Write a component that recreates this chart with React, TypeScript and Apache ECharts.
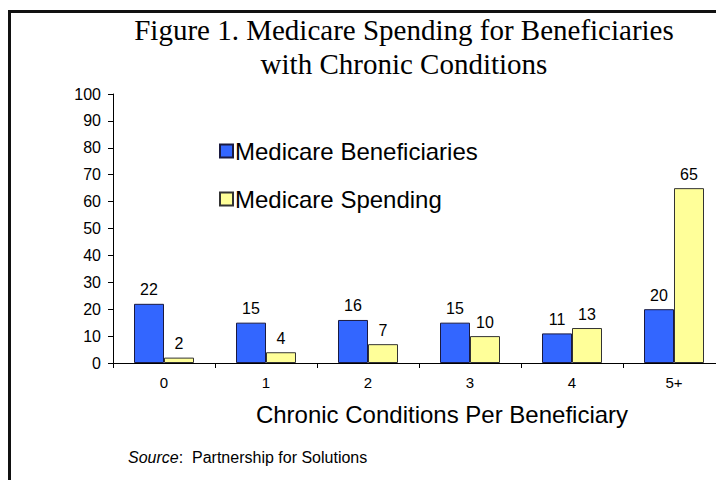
import React, { useEffect, useRef } from "react";
import * as echarts from "echarts";

const categories = ["0", "1", "2", "3", "4", "5+"];
const beneficiaries = [22, 15, 16, 15, 11, 20];
const spending = [2, 4, 7, 10, 13, 65];
const titleLines = ["Figure 1. Medicare Spending for Beneficiaries", "with Chronic Conditions"];
const xAxisName = "Chronic Conditions Per Beneficiary";
const seriesNames = ["Medicare Beneficiaries", "Medicare Spending"];

const SANS = "Liberation Sans, Arial, sans-serif";

export default function App() {
  const ref = useRef<HTMLDivElement>(null);
  useEffect(() => {
    const chart = echarts.init(ref.current!, null, { renderer: "svg" });
    const labelStyle = {
      show: true,
      position: "top" as const,
      distance: 6,
      color: "#000",
      fontFamily: SANS,
      fontSize: 16,
    };
    chart.setOption({
      animation: false,
      backgroundColor: "#fff",
      title: {
        text: titleLines.join("\n"),
        left: 399,
        top: 8,
        textAlign: "center",
        textStyle: {
          fontFamily: "Liberation Serif, Times New Roman, serif",
          fontWeight: "normal",
          fontSize: 29,
          lineHeight: 34,
          color: "#000",
        },
      },
      legend: {
        orient: "vertical",
        left: 214,
        top: 134,
        itemGap: 24,
        itemWidth: 13,
        itemHeight: 13,
        icon: "rect",
        textStyle: {
          fontFamily: SANS,
          fontSize: 24,
          color: "#000",
          padding: [0, 0, 0, -3],
        },
        data: seriesNames,
      },
      grid: { left: 113, top: 94, width: 612, height: 269, containLabel: false, outerBoundsMode: "none" },
      xAxis: {
        type: "category",
        data: categories,
        axisLine: { lineStyle: { color: "#000", width: 1 } },
        axisTick: { show: true, alignWithLabel: false, length: 5, lineStyle: { color: "#000" } },
        axisLabel: { fontFamily: SANS, fontSize: 15, color: "#000", margin: 12 },
      },
      yAxis: {
        type: "value",
        min: 0,
        max: 100,
        interval: 10,
        splitLine: { show: false },
        axisLine: { show: true, lineStyle: { color: "#000", width: 1 } },
        axisTick: { show: true, length: 5, lineStyle: { color: "#000" } },
        axisLabel: { fontFamily: SANS, fontSize: 16, color: "#000", margin: 12 },
      },
      series: [
        {
          name: seriesNames[0],
          type: "bar",
          data: beneficiaries,
          barWidth: 30,
          barGap: "0%",
          itemStyle: { color: "#3366FF", borderColor: "#1a1a40", borderWidth: 1 },
          label: labelStyle,
        },
        {
          name: seriesNames[1],
          type: "bar",
          data: spending,
          barWidth: 30,
          barGap: "0%",
          itemStyle: { color: "#FFFF99", borderColor: "#333", borderWidth: 1 },
          label: labelStyle,
        },
      ],
      graphic: [
        {
          type: "polyline",
          shape: { points: [[9.5, 490], [9.5, 11.5], [730, 11.5]] },
          style: { fill: "none", stroke: "#111", lineWidth: 3 },
          silent: true,
        },
        {
          type: "text",
          x: 442,
          y: 414,
          style: {
            text: xAxisName,
            fontFamily: SANS,
            fontSize: 24,
            fill: "#000",
            align: "center",
            verticalAlign: "middle",
          },
        },
        {
          type: "text",
          x: 128,
          y: 457,
          style: {
            text: "{i|Source}:  Partnership for Solutions",
            fontFamily: SANS,
            fontSize: 16,
            fill: "#000",
            verticalAlign: "middle",
            rich: { i: { fontStyle: "italic", fontFamily: SANS, fontSize: 16 } },
          },
        },
      ],
    });
    return () => chart.dispose();
  }, []);
  return (
    <div
      ref={ref}
      style={{ position: "absolute", left: 0, top: 0, width: 716, height: 480, overflow: "hidden" }}
    />
  );
}
